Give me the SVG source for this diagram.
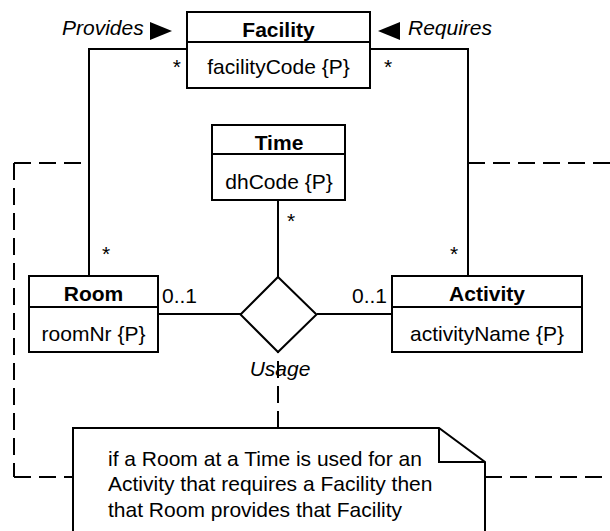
<svg xmlns="http://www.w3.org/2000/svg" width="610" height="531" viewBox="0 0 610 531">
  <style>
    text { font-family: "Liberation Sans", Arial, sans-serif; font-size: 21px; fill: #000; }
    .b { font-weight: bold; text-anchor: middle; }
    .c { text-anchor: middle; }
    .i { font-style: italic; }
    .box { fill: #fff; stroke: #000; stroke-width: 2; }
    .ln { fill: none; stroke: #000; stroke-width: 2; }
    .dash { fill: none; stroke: #000; stroke-width: 2; stroke-dasharray: 17 8; }
  </style>

  <!-- constraint: dashed frame linking the two associations through the note -->
  <g id="constraint">
    <path class="dash" d="M14,163 H89"/>
    <path class="dash" d="M14,163 V477"/>
    <path class="dash" d="M14,477 H73"/>
    <path class="dash" d="M468,163 H610"/>
    <path class="dash" d="M485,477 H610"/>
    <path class="dash" d="M278,428 V352"/>
  </g>

  <g id="connectors">
    <path class="ln" d="M187,49 H89 V276"/>
    <path class="ln" d="M370,49 H468 V276"/>
    <path class="ln" d="M278,200 V277"/>
    <path class="ln" d="M158,314 H241"/>
    <path class="ln" d="M317,314 H392"/>
    <!-- multiplicities -->
    <text x="181" y="74" text-anchor="end">*</text>
    <text x="384" y="74">*</text>
    <text x="102" y="261">*</text>
    <text x="450" y="261">*</text>
    <text x="287" y="228">*</text>
    <text x="162" y="303">0..1</text>
    <text x="387" y="303" text-anchor="end">0..1</text>
    <!-- association names -->
    <text x="62" y="35" class="i">Provides</text>
    <polygon points="150,22 150,40 172,31" fill="#000"/>
    <text x="408" y="35" class="i">Requires</text>
    <polygon points="400,22 400,40 378,31" fill="#000"/>
  </g>

  <g id="facility">
    <rect class="box" x="187" y="12" width="183" height="76"/>
    <line class="ln" x1="187" y1="42" x2="370" y2="42"/>
    <text x="278.5" y="37" class="b">Facility</text>
    <text x="278.5" y="74" class="c">facilityCode {P}</text>
  </g>

  <g id="time">
    <rect class="box" x="212" y="125" width="133" height="75"/>
    <line class="ln" x1="212" y1="154" x2="345" y2="154"/>
    <text x="279" y="150" class="b">Time</text>
    <text x="279" y="189" class="c">dhCode {P}</text>
  </g>

  <g id="room">
    <rect class="box" x="29" y="276" width="129" height="76"/>
    <line class="ln" x1="29" y1="307" x2="158" y2="307"/>
    <text x="93.5" y="301" class="b">Room</text>
    <text x="93.5" y="341" class="c">roomNr {P}</text>
  </g>

  <g id="activity">
    <rect class="box" x="392" y="276" width="190" height="76"/>
    <line class="ln" x1="392" y1="307" x2="582" y2="307"/>
    <text x="487" y="301" class="b">Activity</text>
    <text x="487" y="341" class="c">activityName {P}</text>
  </g>

  <g id="usage">
    <polygon class="box" points="278,277 316.5,314.5 278,352 240.5,314.5"/>
    <text x="280" y="376" class="c i">Usage</text>
  </g>

  <g id="note">
    <polygon class="box" points="73,428 439,428 485,462 485,540 73,540"/>
    <polyline class="ln" points="439,428 439,462 485,462"/>
    <text x="108" y="466">if a Room at a Time is used for an</text>
    <text x="108" y="491">Activity that requires a Facility then</text>
    <text x="108" y="517">that Room provides that Facility</text>
  </g>
</svg>
